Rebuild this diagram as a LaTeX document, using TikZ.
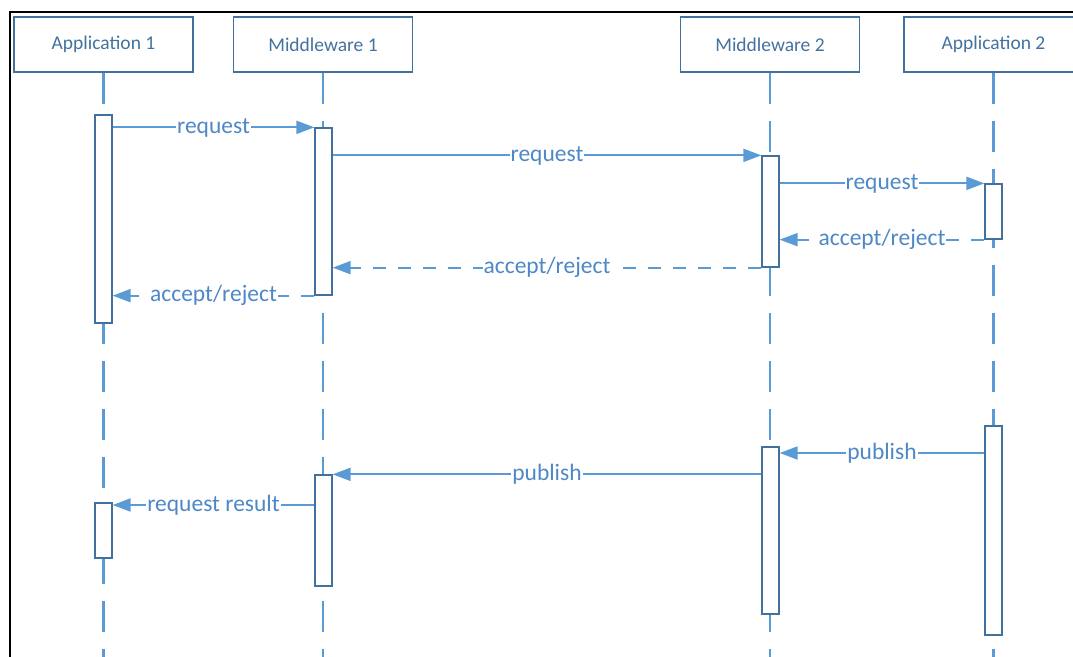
\documentclass[tikz,border=0pt]{standalone}
\usepackage{fontspec}
\setmainfont{Carlito}
\usetikzlibrary{arrows.meta}

\definecolor{linec}{HTML}{5B9BD5}
\definecolor{boxc}{HTML}{41719C}
\definecolor{headc}{HTML}{44729F}
\definecolor{labc}{HTML}{4F88C6}

\begin{document}
\begin{tikzpicture}[x=1pt,y=-1pt]
    \tikzstyle{head}=[draw=boxc,line width=1.3pt,fill=white,minimum width=179pt,minimum height=55pt,inner sep=0pt,text=headc,font=\fontsize{19.5}{21}\selectfont]
    \tikzstyle{act}=[draw=boxc,line width=1.3pt,fill=white,minimum width=17pt,inner sep=0pt]
    \tikzstyle{life}=[draw=linec,line width=2.2pt,dash pattern=on 31pt off 17pt]
    \tikzstyle{msg}=[draw=linec,line width=2pt,-{Triangle[length=18pt,width=13pt]}]
    \tikzstyle{ret}=[msg,dash pattern=on 13pt off 12pt]
    \tikzstyle{lab}=[fill=white,inner sep=1pt,anchor=base,yshift=-6pt,text=labc,font=\fontsize{23.5}{25}\selectfont]

    \clip (0,0) rectangle (1073,656);
    \draw[line width=2.5pt] (10,12) rectangle (1100,700);

    % participants
    \node (app1)[head] at (103.5,44.5) {Application 1};
    \node (mw1)[head] at (323,44.5) {Middleware 1};
    \node (mw2)[head] at (770,44.5) {Middleware 2};
    \node (app2)[head] at (993.5,44.5) {Application 2};

    \foreach \p in {app1,mw1,mw2,app2}
        \draw[life] (\p.south) -- (\p.south |- 0,660);

    % activations
    \node (a1)[act,minimum height=208pt] at (103.5,219) {};
    \node (m1)[act,minimum height=167pt] at (323.5,211.5) {};
    \node (m2)[act,minimum height=111pt] at (770.5,211.5) {};
    \node (a2)[act,minimum height=55pt] at (993.5,211.5) {};

    \node (a2b)[act,minimum height=209pt] at (993.5,530.5) {};
    \node (m2b)[act,minimum height=167pt] at (770.5,530.5) {};
    \node (m1b)[act,minimum height=111pt] at (323.5,530.5) {};
    \node (a1b)[act,minimum height=55pt] at (103.5,530.5) {};

    % request / answer
    \draw[msg] (a1.east |- m1.north) -- node[lab] {request} (m1.north west);
    \draw[msg] (m1.east |- m2.north) -- node[lab] {request} (m2.north west);
    \draw[msg] (m2.east |- a2.north) -- node[lab] {request} (a2.north west);
    \draw[ret] (a2.south west) -- node[lab] {accept/reject} (m2.east |- a2.south);
    \draw[ret] (m2.south west) -- node[lab] {accept/reject} (m1.east |- m2.south);
    \draw[ret] (m1.south west) -- node[lab] {accept/reject} (a1.east |- m1.south);

    % publish
    \draw[msg] (a2b.west |- 0,453) -- node[lab] {publish} (m2b.east |- 0,453);
    \draw[msg] (m2b.west |- m1b.north) -- node[lab] {publish} (m1b.north east);
    \draw[msg] (m1b.west |- 0,505) -- node[lab] {request result} (a1b.east |- 0,505);
\end{tikzpicture}
\end{document}
